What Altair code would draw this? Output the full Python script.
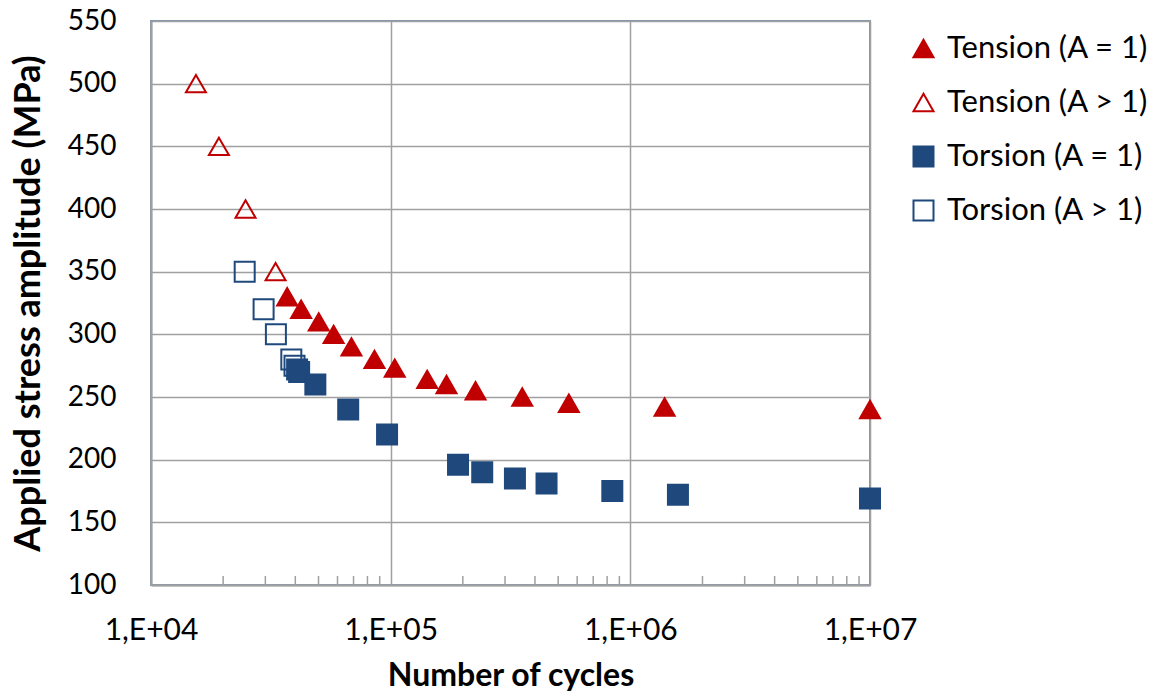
import altair as alt
import pandas as pd

# ---- data ----
series_names = ["Tension (A = 1)", "Tension (A > 1)", "Torsion (A = 1)", "Torsion (A > 1)"]

tension_a1_n = [3.70e4, 4.23e4, 5.01e4, 5.78e4, 6.86e4, 8.56e4, 1.04e5, 1.42e5,
                1.71e5, 2.26e5, 3.54e5, 5.54e5, 1.39e6, 1.0e7]
tension_a1_s = [330, 320, 310, 300, 290, 280, 273, 264, 260, 255, 250, 245, 242, 240]

tension_ag1_n = [1.54e4, 1.92e4, 2.48e4, 3.31e4]
tension_ag1_s = [500, 450, 400, 350]

torsion_a1_n = [4.07e4, 4.15e4, 4.85e4, 6.65e4, 9.66e4, 1.91e5, 2.41e5, 3.30e5,
                4.47e5, 8.41e5, 1.58e6, 1.0e7]
torsion_a1_s = [272, 270, 260, 240, 220, 196, 190, 185, 181, 175, 172, 169]

torsion_ag1_n = [2.46e4, 2.95e4, 3.32e4, 3.85e4, 3.97e4]
torsion_ag1_s = [350, 320, 300, 280, 275]

x_major = [1e4, 1e5, 1e6, 1e7]
x_minor = [m * 10 ** e for e in (4, 5, 6) for m in range(2, 10)]
y_ticks = list(range(100, 551, 50))

shapes = ["triangle-up", "triangle-up", "square", "square"]
strokes = ["#C00000", "#C00000", "#1F497D", "#1F497D"]
fills = ["#C00000", "transparent", "#1F497D", "transparent"]

rows = []
for name, ns, ss in zip(series_names,
                        [tension_a1_n, tension_ag1_n, torsion_a1_n, torsion_ag1_n],
                        [tension_a1_s, tension_ag1_s, torsion_a1_s, torsion_ag1_s]):
    for n, s in zip(ns, ss):
        rows.append({"series": name, "cycles": n, "stress": s})
df = pd.DataFrame(rows)
minor_df = pd.DataFrame({"m": x_minor})

W, H = 719, 564
FONT = "Lato"

xscale = alt.Scale(type="log", domain=[1e4, 1e7], nice=False)
yscale = alt.Scale(domain=[100, 550], nice=False, zero=False)

points = alt.Chart(df).mark_point(strokeWidth=2, opacity=1, size=400).encode(
    x=alt.X("cycles:Q", scale=xscale,
            axis=alt.Axis(values=x_major, title="Number of cycles",
                          labelExpr="'1,E+' + (round(log(datum.value)/LN10) < 10 ? '0' : '') + round(log(datum.value)/LN10)",
                          grid=True, ticks=False, tickSize=0, labelPadding=30,
                          labelFlush=False,
                          labelFontSize=30, titleFontSize=32, titleFontWeight="bold",
                          titleBaseline="alphabetic", titleY=100)),
    y=alt.Y("stress:Q", scale=yscale,
            axis=alt.Axis(values=y_ticks, title="Applied stress amplitude (MPa)",
                          grid=True, ticks=False, tickSize=0, labelPadding=35,
                          labelFlush=False,
                          labelFontSize=28, titleFontSize=36, titleFontWeight="bold",
                          titleBaseline="alphabetic", titleX=-112)),
    shape=alt.Shape("series:N", title=None,
                    scale=alt.Scale(domain=series_names, range=shapes),
                    legend=alt.Legend(orient="none", legendX=757, legendY=12,
                                      labelFontSize=31, symbolSize=400, symbolStrokeWidth=2,
                                      labelOffset=8, rowPadding=22, padding=0,
                                      labelLimit=0,
                                      labelFont=FONT, labelColor="#000000")),
    stroke=alt.Stroke("series:N", title=None,
                      scale=alt.Scale(domain=series_names, range=strokes)),
    fill=alt.Fill("series:N", title=None,
                  scale=alt.Scale(domain=series_names, range=fills)),
)

minor = alt.Chart(minor_df).mark_rule(color="#a0a0a0", strokeWidth=1.5).encode(
    x=alt.X("m:Q", scale=xscale),
    y=alt.value(H),
    y2=alt.value(H - 9),
)

chart = alt.layer(minor, points).properties(
    width=W, height=H,
    autosize=alt.AutoSizeParams(type="none"),
    padding={"left": 151, "top": 21, "right": 1154 - 151 - W, "bottom": 697 - 21 - H},
    background="white",
).configure_view(
    stroke="#7f96b2", strokeWidth=2
).configure_axis(
    labelFont=FONT, titleFont=FONT, labelColor="#000000", titleColor="#000000",
    gridColor="#a0a0a0", gridWidth=1.5, domainColor="#a0a0a0", domainWidth=2,
    labelOverlap=False,
)

chart.save("out.html", embed_options={"renderer": "svg", "actions": False})
